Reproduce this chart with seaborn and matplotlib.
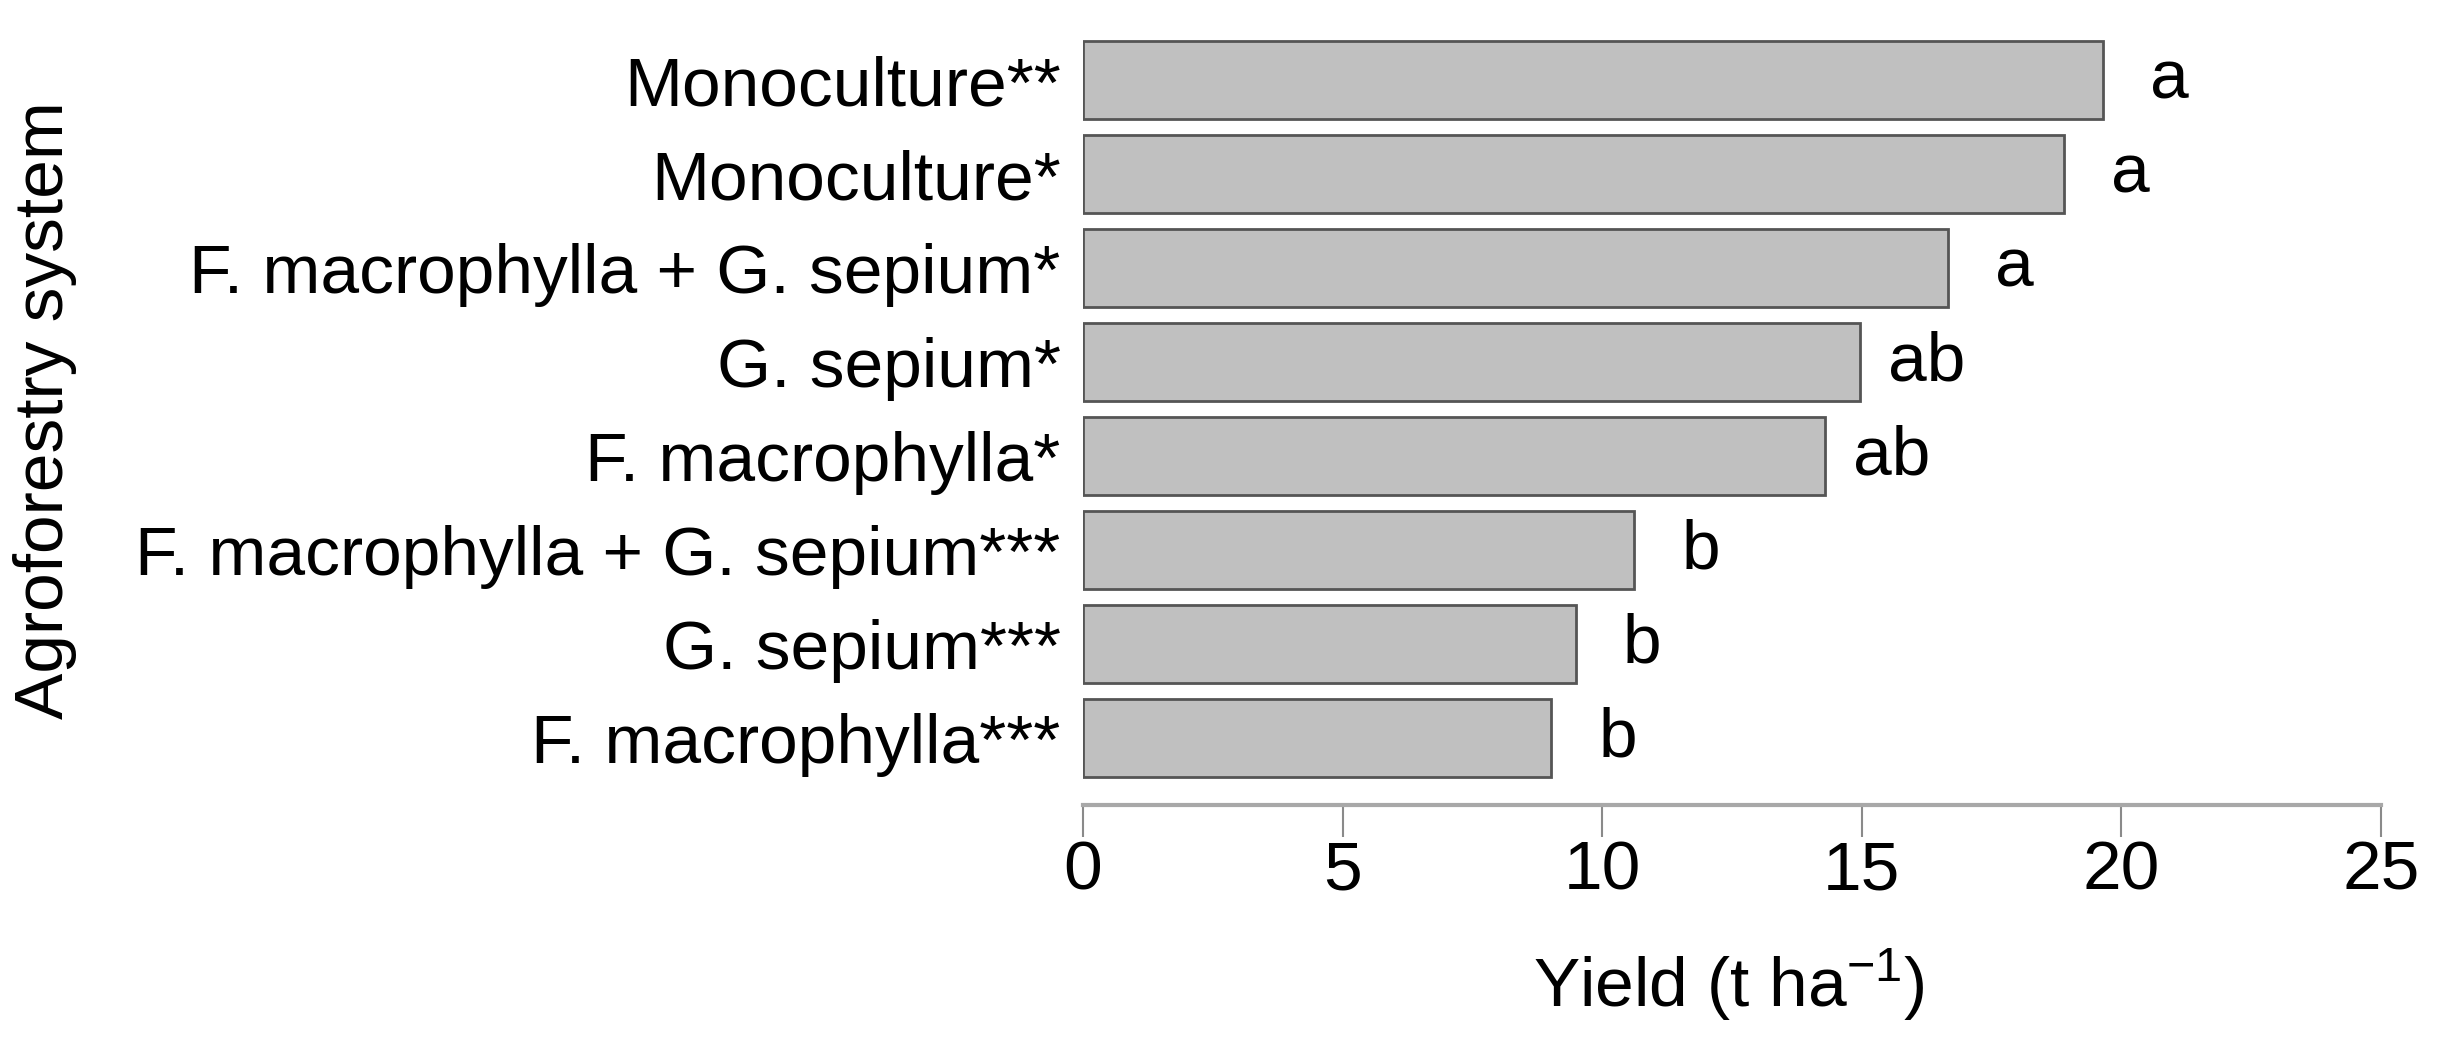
import pandas as pd
import seaborn as sns
import matplotlib.pyplot as plt

# data
sistemas = ["Monoculture**", "Monoculture*", "F. macrophylla + G. sepium*",
            "G. sepium*", "F. macrophylla*", "F. macrophylla + G. sepium***",
            "G. sepium***", "F. macrophylla***"]
rendimento = [19.64, 18.90, 16.66, 14.97, 14.29, 10.62, 9.49, 9.02]
letras = ["a", "a", "a", "ab", "ab", "b", "b", "b"]

dados = pd.DataFrame({"sistema": sistemas, "yield": rendimento})

sns.set_style("white")
plt.rcParams['font.family'] = ['Liberation Sans', 'DejaVu Sans']
plt.rcParams['mathtext.default'] = 'regular'
plt.rcParams['text.color'] = 'black'
plt.rcParams['axes.labelcolor'] = 'black'
plt.rcParams['xtick.color'] = 'black'
plt.rcParams['ytick.color'] = 'black'

fig = plt.figure(figsize=(24.44, 10.51), dpi=100)
ax = fig.add_axes([0.4431, 0.2341, 0.5311, 0.7300])

sns.barplot(data=dados, x="yield", y="sistema", orient="h", ax=ax,
            color="#c0c0c0", edgecolor="#555555", linewidth=2,
            width=0.83, saturation=1)

for i, (v, l) in enumerate(zip(rendimento, letras)):
    ax.text(v + 1.28, i, l, ha="center", va="center", fontsize=50)

ax.set_xlim(0, 25)
ax.set_ylim(7.71, -0.45)
ax.set_xticks([0, 5, 10, 15, 20, 25])
ax.tick_params(axis="x", bottom=True, labelsize=50, length=23, width=1.5,
               color="#8a8a8a", labelcolor="black", pad=2)
ax.tick_params(axis="y", labelsize=50, length=0, pad=16, labelcolor="black")

for s in ["top", "right", "left"]:
    ax.spines[s].set_visible(False)
ax.spines["bottom"].set_color("#a8a8a8")
ax.spines["bottom"].set_linewidth(3)

ax.set_xlabel("Yield (t ha$^{-1}$)", fontsize=50)
ax.xaxis.label.set_va("center")
ax.xaxis.set_label_coords(0.498, -0.235)
ax.set_ylabel("Agroforestry system", fontsize=50)
ax.yaxis.label.set_va("center")
ax.yaxis.set_label_coords(-0.80, 0.515)

fig.savefig("out.png", dpi=100)
